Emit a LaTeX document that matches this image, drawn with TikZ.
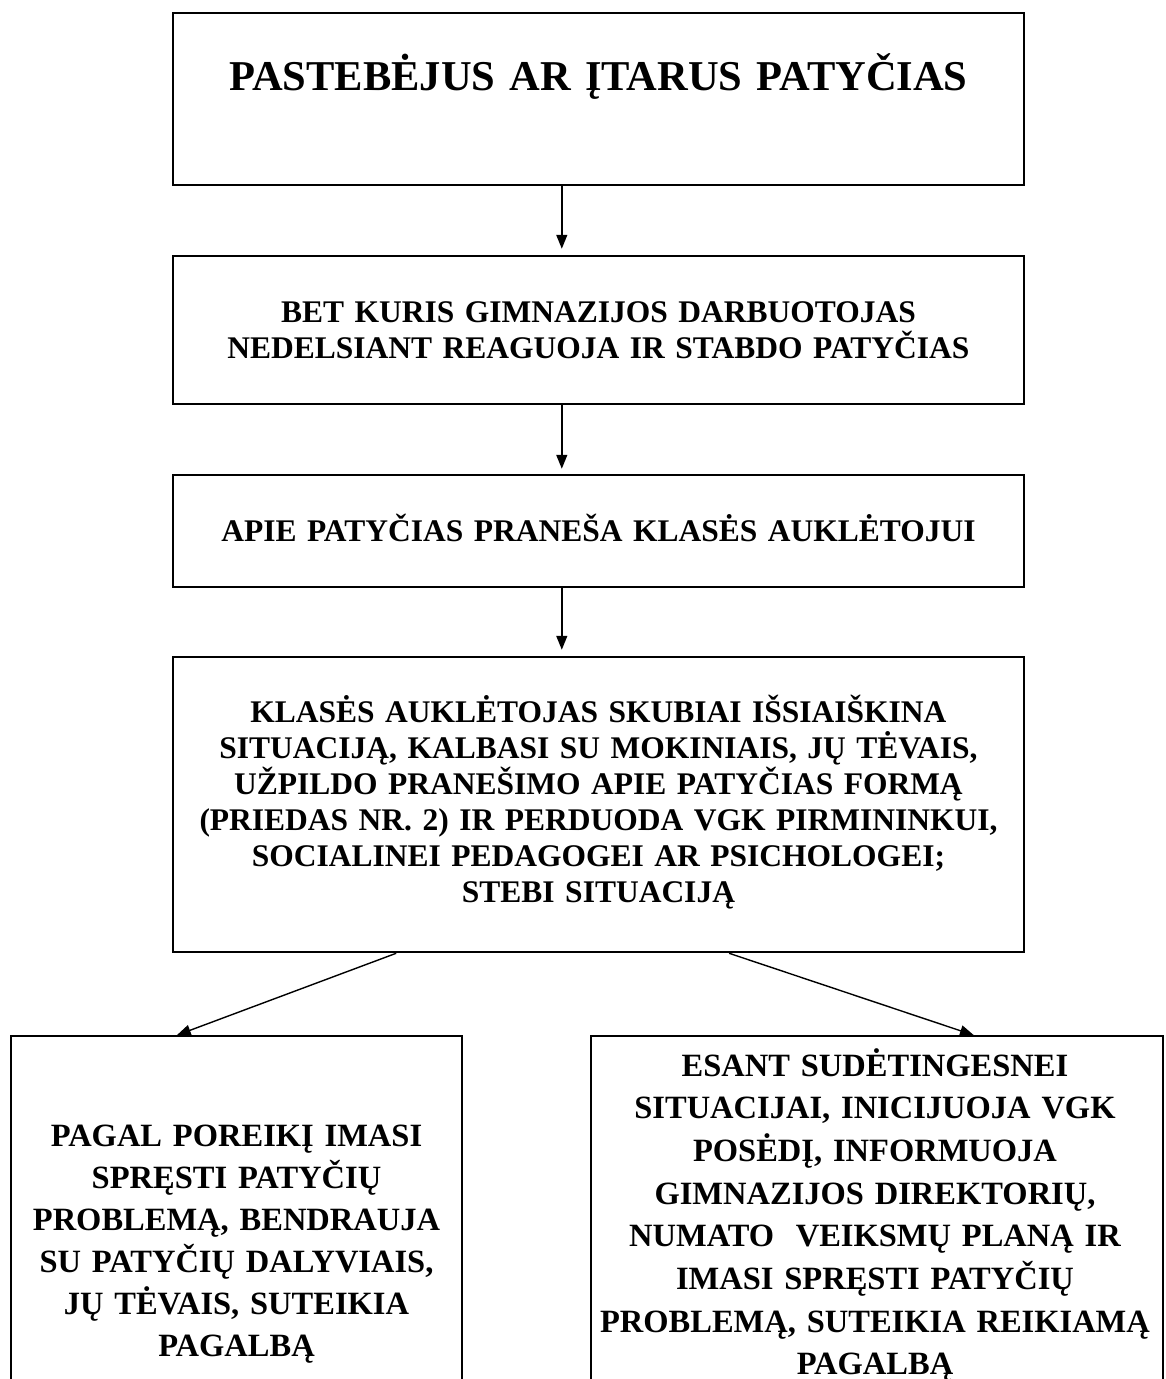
\documentclass[tikz,border=0pt]{standalone}
\usepackage{fontspec}
\setmainfont{Liberation Serif}
\usetikzlibrary{arrows.meta,calc}
\begin{document}
\begin{tikzpicture}[x=1pt,y=-1pt,
  box/.style={draw, line width=2.5pt, inner sep=0pt, minimum width=851pt},
  lowbox/.style={draw, line width=1.5pt, inner sep=0pt, minimum height=364pt},
  txt/.style={anchor=base, align=center, text width=900pt, inner sep=0pt, font=\bfseries\fontsize{31.5}{36}\selectfont},
  lowtxt/.style={anchor=base, align=center, text width=700pt, inner sep=0pt},
  arr/.style={-{Triangle[length=14pt,width=11pt]}, line width=1.4pt}
]
\useasboundingbox (0,0) rectangle (1166,1379);
\clip (0,0) rectangle (1166,1379);

% boxes
\node[box, minimum height=172pt] (b1) at (598.5,99) {};
\node[box, minimum height=148pt] (b2) at (598.5,330) {};
\node[box, minimum height=112pt] (b3) at (598.5,531) {};
\node[box, minimum height=295pt] (b4) at (598.5,804.5) {};
\node[lowbox, minimum width=451pt] (b5) at (236.5,1218) {};
\node[lowbox, minimum width=572pt] (b6) at (877,1218) {};

% texts
\node[txt, font=\bfseries\fontsize{42.5}{48}\selectfont] (t1) at (598.5,90) {PASTEBĖJUS AR ĮTARUS PATYČIAS};
\node[txt] (t2) at (598.5,322.5) {BET KURIS GIMNAZIJOS DARBUOTOJAS\\NEDELSIANT REAGUOJA IR STABDO PATYČIAS};
\node[txt] (t3) at (598.5,541.5) {APIE PATYČIAS PRANEŠA KLASĖS AUKLĖTOJUI};
\node[txt] (t4) at (598.5,722.5) {KLASĖS AUKLĖTOJAS SKUBIAI IŠSIAIŠKINA\\SITUACIJĄ, KALBASI SU MOKINIAIS, JŲ TĖVAIS,\\UŽPILDO PRANEŠIMO APIE PATYČIAS FORMĄ\\(PRIEDAS NR. 2) IR PERDUODA VGK PIRMININKUI,\\SOCIALINEI PEDAGOGEI AR PSICHOLOGEI;\\STEBI SITUACIJĄ};
\node[lowtxt, font=\bfseries\fontsize{32.5}{42}\selectfont] (t5) at (236.5,1146) {PAGAL POREIKĮ IMASI\\SPRĘSTI PATYČIŲ\\PROBLEMĄ, BENDRAUJA\\SU PATYČIŲ DALYVIAIS,\\JŲ TĖVAIS, SUTEIKIA\\PAGALBĄ};
\node[lowtxt, font=\bfseries\fontsize{32.5}{42.7}\selectfont] (t6) at (875,1076) {ESANT SUDĖTINGESNEI\\SITUACIJAI, INICIJUOJA VGK\\POSĖDĮ, INFORMUOJA\\GIMNAZIJOS DIREKTORIŲ,\\NUMATO\ \ VEIKSMŲ PLANĄ IR\\IMASI SPRĘSTI PATYČIŲ\\PROBLEMĄ, SUTEIKIA REIKIAMĄ\\PAGALBĄ};

% arrows
\draw[arr, shorten >=6pt] ($(b1.south west)!0.457!(b1.south east)$) -- ($(b2.north west)!0.457!(b2.north east)$);
\draw[arr, shorten >=5pt] ($(b2.south west)!0.457!(b2.south east)$) -- ($(b3.north west)!0.457!(b3.north east)$);
\draw[arr, shorten >=6pt] ($(b3.south west)!0.457!(b3.south east)$) -- ($(b4.north west)!0.457!(b4.north east)$);
\draw[arr] ($(b4.south west)!0.263!(b4.south east)$) -- ($(b5.north west)!0.368!(b5.north east)$);
\draw[arr] ($(b4.south west)!0.653!(b4.south east)$) -- ($(b6.north west)!0.669!(b6.north east)$);
\end{tikzpicture}
\end{document}
